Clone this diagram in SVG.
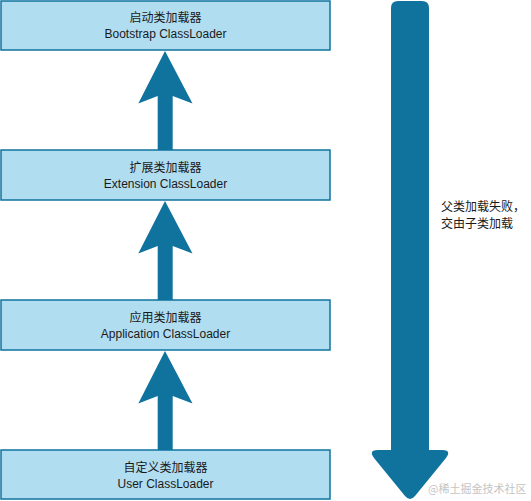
<svg xmlns="http://www.w3.org/2000/svg" width="531" height="501" viewBox="0 0 531 501">
  <style>
    .box { fill: #b1ddf0; stroke: #10739e; stroke-width: 1.5; }
    .lbl { font-family: "Liberation Sans", "Noto Sans CJK SC", Arial, sans-serif; font-size: 12px; fill: #1a1a1a; text-anchor: middle; }
    .note { font-family: "Liberation Sans", "Noto Sans CJK SC", Arial, sans-serif; font-size: 12px; fill: #1a1a1a; }
    .arrow { fill: #10739e; stroke: none; }
    .wm { font-family: "Noto Sans CJK SC", "Noto Sans CJK JP", sans-serif; font-size: 11px; fill: #c4c4c4; }
  </style>
  <rect width="531" height="501" fill="#ffffff"/>

  <g id="connectors">
    <path class="arrow" d="M165,51 L192.5,103.5 L172.7,96 L172.7,150 L157.7,150 L157.7,96 L138.3,103.5 Z"/>
    <path class="arrow" d="M165,201 L192.5,253.5 L172.7,246 L172.7,300 L157.7,300 L157.7,246 L138.3,253.5 Z"/>
    <path class="arrow" d="M165,351 L192.5,403.5 L172.7,396 L172.7,450 L157.7,450 L157.7,396 L138.3,403.5 Z"/>
    <path id="big-arrow" class="arrow" d="M391,8 Q391,1 398,1 L422,1 Q429,1 429,8 L429,450 L442,450 Q452,450 446,458 L415,496 Q410,502 405,496 L374,458 Q368,450 378,450 L391,450 Z"/>
  </g>

  <g id="bootstrap">
    <rect class="box" x="1" y="1" width="329" height="49"/>
    <text class="lbl" x="165.5" y="22">启动类加载器</text>
    <text class="lbl" x="165.5" y="38">Bootstrap ClassLoader</text>
  </g>
  <g id="extension">
    <rect class="box" x="1" y="150" width="329" height="50"/>
    <text class="lbl" x="165.5" y="172">扩展类加载器</text>
    <text class="lbl" x="165.5" y="188">Extension ClassLoader</text>
  </g>
  <g id="application">
    <rect class="box" x="1" y="300" width="329" height="50"/>
    <text class="lbl" x="165.5" y="322">应用类加载器</text>
    <text class="lbl" x="165.5" y="338">Application ClassLoader</text>
  </g>
  <g id="user">
    <rect class="box" x="1" y="450" width="329" height="49"/>
    <text class="lbl" x="165.5" y="472">自定义类加载器</text>
    <text class="lbl" x="165.5" y="488">User ClassLoader</text>
  </g>

  <g id="note">
    <text class="note" x="441" y="211">父类加载失败，</text>
    <text class="note" x="441" y="228">交由子类加载</text>
  </g>

  <text class="wm" x="428" y="493">@稀土掘金技术社区</text>
</svg>
